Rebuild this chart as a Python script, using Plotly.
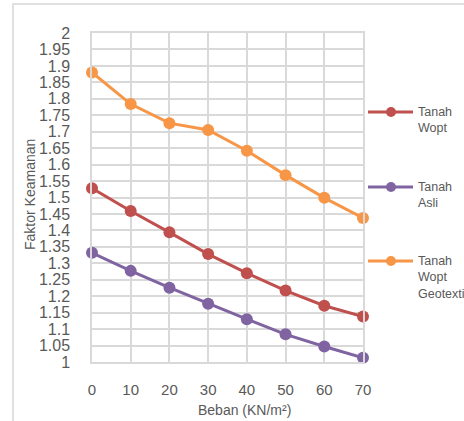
import plotly.graph_objects as go

beban = [0, 10, 20, 30, 40, 50, 60, 70]
tanah_wopt = [1.528, 1.459, 1.394, 1.328, 1.270, 1.217, 1.171, 1.138]
tanah_asli = [1.332, 1.277, 1.226, 1.177, 1.130, 1.084, 1.047, 1.013]
tanah_geo = [1.880, 1.784, 1.726, 1.705, 1.642, 1.568, 1.499, 1.438]
series_names = ["Tanah<br>Wopt", "Tanah<br>Asli", "Tanah<br>Wopt<br>Geotexti"]
colors = ["#C0504D", "#8064A2", "#F79646"]
y_ticks = [round(1 + 0.05 * i, 2) for i in range(21)]
y_tick_text = [("%g" % v) for v in y_ticks]

W, H = 464, 421
L, R, T, B = 92, 363, 33, 362


def px(x):
    return (x - L) / (R - L)


def py(y):
    return (B - y) / (B - T)


fig = go.Figure()
for vals, c in zip([tanah_wopt, tanah_asli, tanah_geo], colors):
    fig.add_trace(go.Scatter(
        x=beban, y=vals, mode="lines+markers",
        line=dict(color=c, width=3),
        marker=dict(color=c, size=12),
        showlegend=False, cliponaxis=False,
    ))

grid = "#d9d9d9"
font_fam = "Liberation Sans, Arial, sans-serif"

fig.update_layout(
    width=W, height=H,
    margin=dict(l=L, r=W - R, t=T, b=H - B),
    paper_bgcolor="white", plot_bgcolor="white",
    xaxis=dict(range=[0, 70], tickvals=beban, ticktext=[str(v) for v in beban],
               showgrid=True, gridcolor=grid, gridwidth=1.5, zeroline=False,
               showline=True, linecolor=grid, linewidth=1.5, mirror=True,
               ticks="", tickfont=dict(family=font_fam, size=15, color="#595959"),
               ticklabelstandoff=13),
    yaxis=dict(range=[1, 2], tickvals=y_ticks, ticktext=y_tick_text,
               showgrid=True, gridcolor=grid, gridwidth=1.5, zeroline=False,
               showline=True, linecolor=grid, linewidth=1.5, mirror=True,
               ticks="", tickfont=dict(family=font_fam, size=16, color="#595959"),
               ticklabelstandoff=17),
)

shapes = [dict(type="rect", xref="paper", yref="paper",
               x0=px(13), x1=px(600), y0=py(4), y1=py(600),
               line=dict(color="#e0e0e0", width=2), fillcolor="rgba(0,0,0,0)",
               layer="below")]
annotations = []
leg_y = [112, 187, 261]
for name, c, ly in zip(series_names, colors, leg_y):
    shapes.append(dict(type="line", xref="paper", yref="paper",
                       x0=px(368), x1=px(413), y0=py(ly), y1=py(ly),
                       line=dict(color=c, width=3)))
    shapes.append(dict(type="circle", xref="paper", yref="paper",
                       xsizemode="pixel", ysizemode="pixel",
                       xanchor=px(391), yanchor=py(ly),
                       x0=-5, x1=5, y0=-5, y1=5,
                       line=dict(color=c, width=0), fillcolor=c))
    annotations.append(dict(text=name, xref="paper", yref="paper",
                            x=px(416), y=py(ly - 9), xanchor="left", yanchor="top",
                            align="left", showarrow=False,
                            font=dict(family=font_fam, size=12.5, color="#595959")))

annotations.append(dict(text="Beban (KN/m²)", xref="paper", yref="paper",
                        x=px(244), y=py(410), xanchor="center", yanchor="middle",
                        showarrow=False,
                        font=dict(family=font_fam, size=14, color="#595959")))
annotations.append(dict(text="Faktor Keamanan", xref="paper", yref="paper",
                        x=px(30), y=py(195), xanchor="center", yanchor="middle",
                        textangle=-90, showarrow=False,
                        font=dict(family=font_fam, size=14, color="#595959")))
fig.update_layout(shapes=shapes, annotations=annotations)

fig.write_html("out.html", config={"displayModeBar": False},
               post_script="document.body.style.margin='0px';document.body.style.overflow='hidden';")
